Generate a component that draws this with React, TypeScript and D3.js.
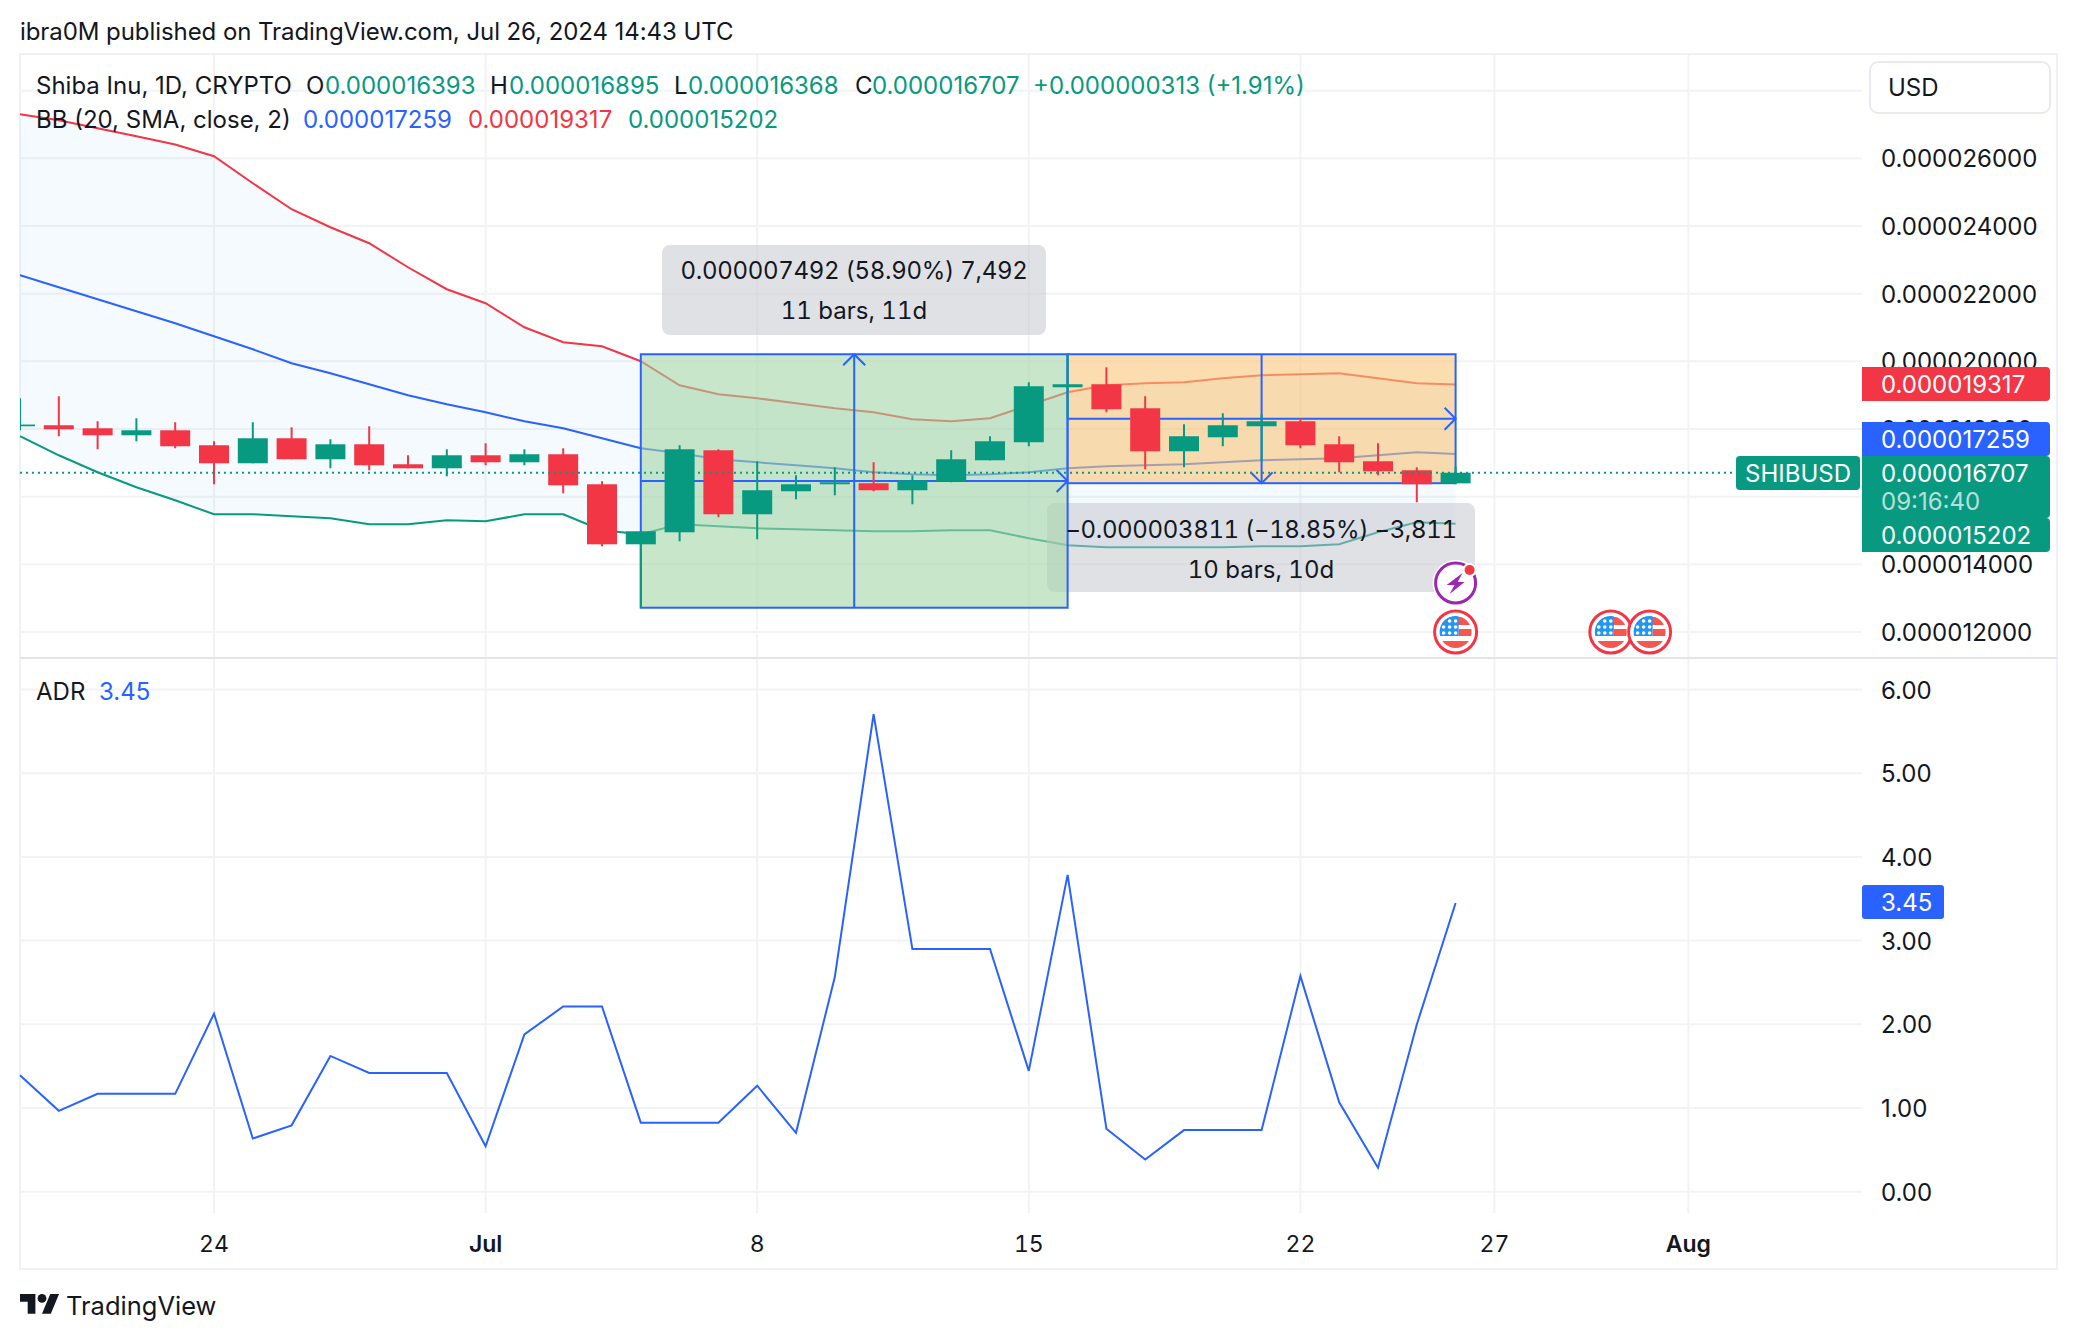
import React from "react";
import * as d3 from "d3";

// ---- data (prices in millionths of USD) ----
const firstDay = Date.UTC(2024, 5, 19);
const opens = [18.080,18.110,18.021,17.814,17.962,17.519,16.987,17.726,17.105,17.548,16.957,16.839,17.223,17.016,17.253,16.366,14.592,14.947,17.371,15.479,16.159,16.366,16.396,16.189,16.455,17.075,17.608,19.233,19.322,18.612,17.341,17.755,18.080,18.228,17.548,17.046,16.780,16.393];
const highs = [18.908,18.967,18.228,18.317,18.199,17.637,18.199,18.051,17.696,18.080,17.223,17.400,17.578,17.400,17.430,16.455,14.977,17.519,17.400,17.046,16.632,16.868,17.016,16.632,17.371,17.785,19.381,20.209,19.824,18.967,18.140,18.465,18.435,18.317,17.785,17.578,16.868,16.895];
const lows = [17.962,17.785,17.400,17.637,17.430,16.366,16.987,17.105,16.839,16.780,16.839,16.602,16.928,16.928,16.100,14.533,12.717,14.681,15.391,14.740,15.923,16.041,16.159,15.775,16.425,17.075,17.489,18.346,18.494,16.809,16.868,17.489,17.046,17.430,16.721,16.632,15.834,16.368];
const closes = [18.131,17.992,17.814,17.962,17.489,16.987,17.726,17.105,17.548,16.928,16.839,17.223,17.016,17.253,16.336,14.592,14.977,17.400,15.479,16.189,16.366,16.425,16.189,16.484,17.105,17.637,19.263,19.322,18.583,17.341,17.785,18.110,18.228,17.519,17.016,16.750,16.366,16.707];
const bbUpper = [27.303,27.126,26.889,26.653,26.407,26.061,25.263,24.495,23.963,23.490,22.780,22.130,21.716,21.007,20.563,20.445,20.002,19.292,19.026,18.908,18.760,18.612,18.494,18.287,18.228,18.317,18.701,19.085,19.292,19.352,19.381,19.499,19.588,19.617,19.647,19.499,19.352,19.317];
const bbBasis = [22.544,22.189,21.834,21.480,21.125,20.741,20.356,19.943,19.647,19.322,18.997,18.731,18.494,18.228,18.021,17.726,17.430,17.282,17.105,17.016,16.928,16.839,16.721,16.662,16.632,16.662,16.721,16.839,16.898,16.928,16.957,17.016,17.075,17.105,17.135,17.223,17.312,17.259];
const bbLower = [17.785,17.223,16.721,16.277,15.893,15.479,15.479,15.420,15.361,15.184,15.184,15.302,15.272,15.479,15.479,15.006,14.888,15.184,15.124,15.065,15.036,15.006,14.977,14.977,15.006,15.006,14.770,14.563,14.504,14.504,14.504,14.504,14.533,14.533,14.592,14.947,15.243,15.202];
const adr = [1.391,0.966,1.169,1.169,1.169,2.127,0.635,0.793,1.622,1.419,1.419,1.419,0.542,1.880,2.212,2.212,0.825,0.825,0.825,1.266,0.704,2.564,5.706,2.899,2.899,2.899,1.444,3.785,0.752,0.384,0.736,0.736,0.736,2.576,1.068,0.287,1.998,3.450];

const priceTicks = [28, 26, 24, 22, 20, 18, 16, 14, 12];
const priceTickLabels = ["", "0.000026000", "0.000024000", "0.000022000", "0.000020000", "0.000018000", "", "0.000014000", "0.000012000"];
const adrTicks = [6, 5, 4, 3, 2, 1, 0];
const adrTickLabels = ["6.00", "5.00", "4.00", "3.00", "2.00", "1.00", "0.00"];
const timeTicks = [Date.UTC(2024,5,24), Date.UTC(2024,6,1), Date.UTC(2024,6,8), Date.UTC(2024,6,15), Date.UTC(2024,6,22), Date.UTC(2024,6,27), Date.UTC(2024,7,1)];
const timeTickLabels = ["24", "Jul", "8", "15", "22", "27", "Aug"];
const boldTimeLabels = ["Jul", "Aug"];
const eventDays = [Date.UTC(2024,6,26), Date.UTC(2024,6,30), Date.UTC(2024,6,31)];

const longEntry = { fromDay: 11, toDay: 22, low: 12.717, high: 20.209 };
const shortEntry = { fromDay: 22, toDay: 32, low: 16.398, high: 20.209 };

const GREEN = "#089981", RED = "#F23645", BLUE = "#2962FF", INK = "#131722";
const GRID = "#f2f3f5", FRAME = "#eff1f6";
const FONT = "Inter, 'Noto Sans', sans-serif";

const DAY = 86400000;
const dates = opens.map((_, i) => firstDay + i * DAY);
const x = d3.scaleUtc().domain([Date.UTC(2024,5,24), Date.UTC(2024,6,26)]).range([214, 1455.6]);
const y = d3.scaleLinear().domain([12, 26]).range([632, 158.3]);
const ya = d3.scaleLinear().domain([0, 6]).range([1191.7, 689.5]);

const bx = (i: number) => x(dates[i]);
const lineOf = (vals: number[]) => d3.line<number>().x((_, i) => bx(i)).y((d) => y(d))(vals) as string;
const bandPath = d3.area<number>().x((_, i) => bx(i)).y0((_, i) => y(bbLower[i])).y1((d) => y(d))(bbUpper) as string;
const adrPath = d3.line<number>().x((_, i) => bx(i)).y((d) => ya(d))(adr) as string;

const T = ({ xx, yy, s, fill = INK, size = 24, anchor = "start", weight = 400, ls = 0, op = 1, tnum = false }: any) => (
  <text x={xx} y={yy} fill={fill} fontSize={size} textAnchor={anchor} fontWeight={weight} letterSpacing={ls} opacity={op} fontFamily={FONT} style={tnum ? { fontVariantNumeric: "tabular-nums" } : undefined}>{s}</text>
);

const Flag = ({ cx, cy, id }: { cx: number; cy: number; id: string }) => (
  <g transform={`translate(${cx},${cy})`}>
    <circle r={21} fill="#fff" stroke={RED} strokeWidth={3} />
    <clipPath id={id}><circle r={16} /></clipPath>
    <g clipPath={`url(#${id})`}>
      <rect x={-17} y={-15} width={34} height={8} fill="#F4574F" />
      <rect x={3} y={-3} width={14} height={7} fill="#F4574F" />
      <rect x={-17} y={9} width={34} height={8} fill="#F4574F" />
      <rect x={-17} y={-16} width={20} height={20} fill="#2196F3" />
      {[-11, -5, 1].map((yy, r) => [-12, -6, 0].map((xx, c) => (r === 0 && c === 0 ? null : <circle key={`${r}-${c}`} cx={xx} cy={yy} r={1.8} fill="#fff" />)))}
    </g>
  </g>
);

const Chevron = ({ tipX, tipY, dir }: any) => {
  const a = 11;
  const p =
    dir === "up" ? `M${tipX - a},${tipY + a}L${tipX},${tipY}L${tipX + a},${tipY + a}` :
    dir === "down" ? `M${tipX - a},${tipY - a}L${tipX},${tipY}L${tipX + a},${tipY - a}` :
    `M${tipX - a},${tipY - a}L${tipX},${tipY}L${tipX - a},${tipY + a}`;
  return <path d={p} fill="none" stroke={BLUE} strokeWidth={2} />;
};

const Position = ({ e, dir, fill }: any) => {
  const x0 = bx(e.fromDay + 5), x1 = bx(e.toDay + 5);
  const yt = y(e.high), yb = y(e.low), ym = y((e.high + e.low) / 2), xm = (x0 + x1) / 2;
  return (
    <g>
      <rect x={x0} y={yt} width={x1 - x0} height={yb - yt} fill={fill} stroke={BLUE} strokeWidth={2} />
      <path d={`M${x0},${ym}H${x1}M${xm},${yt}V${yb}`} stroke={BLUE} strokeWidth={2} fill="none" />
      <Chevron tipX={xm} tipY={dir === "up" ? yt : yb} dir={dir} />
      <Chevron tipX={x1} tipY={ym} dir="right" />
    </g>
  );
};

const AxisTag = ({ top, h, fill }: any) => <path d={`M1862,${top}H2046a4,4 0 0 1 4,4V${top + h - 4}a4,4 0 0 1 -4,4H1862Z`} fill={fill} />;

export default function App() {
  const AX = 1881;
  const lastY = y(closes[closes.length - 1]);
  return (
    <svg width={2078} height={1340} viewBox="0 0 2078 1340" style={{ position: "fixed", left: 0, top: 0, display: "block", background: "#fff" }}>
      <defs>
        <clipPath id="pricePane"><rect x={20} y={54} width={1842} height={604} /></clipPath>
      </defs>

      <T xx={20} yy={40} s="ibra0M published on TradingView.com, Jul 26, 2024 14:43 UTC" ls={-0.07} />

      {/* grid */}
      {priceTicks.map((t) => <line key={t} x1={20} x2={1862} y1={y(t)} y2={y(t)} stroke={GRID} strokeWidth={2} />)}
      {adrTicks.map((t) => <line key={t} x1={20} x2={1862} y1={ya(t)} y2={ya(t)} stroke={GRID} strokeWidth={2} />)}
      {timeTicks.map((t) => <line key={t} x1={x(t)} x2={x(t)} y1={54} y2={1213} stroke={GRID} strokeWidth={2} />)}

      {/* frame */}
      <rect x={20} y={54} width={2037} height={1215} fill="none" stroke={FRAME} strokeWidth={2} />
      <line x1={20} x2={2057} y1={658} y2={658} stroke="#e3e5ea" strokeWidth={2} />

      <g clipPath="url(#pricePane)">
        <path d={bandPath} fill="rgba(33,150,243,0.05)" />
        <path d={lineOf(bbUpper)} fill="none" stroke={RED} strokeWidth={2} />
        <path d={lineOf(bbBasis)} fill="none" stroke={BLUE} strokeWidth={2} />
        <path d={lineOf(bbLower)} fill="none" stroke={GREEN} strokeWidth={2} />

        <rect x={1047} y={503} width={428} height={89} rx={8} fill="rgba(193,195,203,0.5)" />
        <Position e={longEntry} dir="up" fill="rgba(163,213,165,0.6)" />
        <Position e={shortEntry} dir="down" fill="rgba(248,198,122,0.6)" />
        <rect x={662} y={245} width={384} height={90} rx={8} fill="rgba(193,195,203,0.5)" />

        {dates.map((d, i) => {
          const c = closes[i] >= opens[i] ? GREEN : RED;
          const top = y(Math.max(opens[i], closes[i]));
          const bot = y(Math.min(opens[i], closes[i]));
          return (
            <g key={d}>
              <rect x={bx(i) - 1} y={y(highs[i])} width={2} height={y(lows[i]) - y(highs[i])} fill={c} />
              <rect x={bx(i) - 15} y={top} width={30} height={bot - top} fill={c} />
            </g>
          );
        })}
        <line x1={20} x2={1736} y1={lastY} y2={lastY} stroke={GREEN} strokeWidth={2} strokeDasharray="2 4" />
      </g>

      <T xx={854} yy={279} s="0.000007492 (58.90%) 7,492" anchor="middle" tnum ls={-0.3} />
      <T xx={854} yy={319} s="11 bars, 11d" anchor="middle" tnum />
      <T xx={1261} yy={538} s="−0.000003811 (−18.85%) −3,811" anchor="middle" tnum ls={-0.35} />
      <T xx={1261} yy={578} s="10 bars, 10d" anchor="middle" tnum />

      {/* events */}
      <g transform={`translate(${x(eventDays[0])},583)`}>
        <circle r={23} fill="#fff" />
        <circle r={20} fill="#fff" stroke="#9C27B0" strokeWidth={3} />
        <path d="M7,-10L-9,2L-1,2L-6,11L9,-1L2,-1Z" fill="#9C27B0" />
        <circle cx={14} cy={-13} r={7} fill="#fff" />
        <circle cx={14} cy={-13} r={5} fill={RED} />
      </g>
      {eventDays.map((d, i) => <Flag key={d} cx={x(d)} cy={632} id={`flag${i}`} />)}

      {/* legend */}
      <T xx={36} yy={94} s="Shiba Inu, 1D, CRYPTO" />
      <T xx={306} yy={94} s="O" />
      <T xx={325} yy={94} s="0.000016393" fill={GREEN} />
      <T xx={490} yy={94} s="H" />
      <T xx={509} yy={94} s="0.000016895" fill={GREEN} />
      <T xx={674} yy={94} s="L" />
      <T xx={688} yy={94} s="0.000016368" fill={GREEN} />
      <T xx={855} yy={94} s="C" />
      <T xx={872} yy={94} s="0.000016707" fill={GREEN} />
      <T xx={1033} yy={94} s="+0.000000313 (+1.91%)" fill={GREEN} />
      <T xx={36} yy={128} s="BB (20, SMA, close, 2)" />
      <T xx={303} yy={128} s="0.000017259" fill={BLUE} />
      <T xx={468} yy={128} s="0.000019317" fill={RED} />
      <T xx={628} yy={128} s="0.000015202" fill={GREEN} />
      <T xx={36} yy={700} s="ADR" />
      <T xx={99} yy={700} s="3.45" fill={BLUE} />

      <path d={adrPath} fill="none" stroke={BLUE} strokeWidth={2} />

      {/* price axis */}
      <rect x={1870} y={62} width={180} height={51} rx={8} fill="#fff" stroke="#e9ebf0" strokeWidth={2} />
      <T xx={1888} yy={96} s="USD" />
      {priceTicks.map((t, i) => <T key={t} xx={AX} yy={y(t) + 9} s={priceTickLabels[i]} />)}
      {adrTicks.map((t, i) => <T key={t} xx={AX} yy={ya(t) + 9} s={adrTickLabels[i]} />)}

      <AxisTag top={367} h={34} fill={RED} />
      <T xx={AX} yy={393} s="0.000019317" fill="#fff" />
      <AxisTag top={422} h={34} fill={BLUE} />
      <T xx={AX} yy={448} s="0.000017259" fill="#fff" />
      <AxisTag top={456} h={62} fill={GREEN} />
      <T xx={AX} yy={482} s="0.000016707" fill="#fff" />
      <T xx={AX} yy={510} s="09:16:40" fill="#fff" op={0.7} />
      <AxisTag top={518} h={34} fill={GREEN} />
      <T xx={AX} yy={544} s="0.000015202" fill="#fff" />
      <rect x={1736} y={456} width={124} height={34} rx={4} fill={GREEN} />
      <T xx={1798} yy={482} s="SHIBUSD" fill="#fff" anchor="middle" />
      <rect x={1862} y={885} width={82} height={34} rx={3} fill={BLUE} />
      <T xx={AX} yy={911} s="3.45" fill="#fff" />

      {/* time axis */}
      {timeTicks.map((t, i) => (
        <T key={t} xx={x(t)} yy={1252} s={timeTickLabels[i]} size={23} anchor="middle" weight={boldTimeLabels.includes(timeTickLabels[i]) ? 600 : 400} tnum />
      ))}

      {/* watermark */}
      <g transform="translate(20,1289.6) scale(1.1)" fill={INK}>
        <path d="M14 22H7V11H0V4h14v18zM28 22h-8l7.5-18h8L28 22z" />
        <circle cx={20} cy={8} r={4} />
      </g>
      <T xx={66} yy={1315} s="TradingView" size={25.5} />
    </svg>
  );
}
